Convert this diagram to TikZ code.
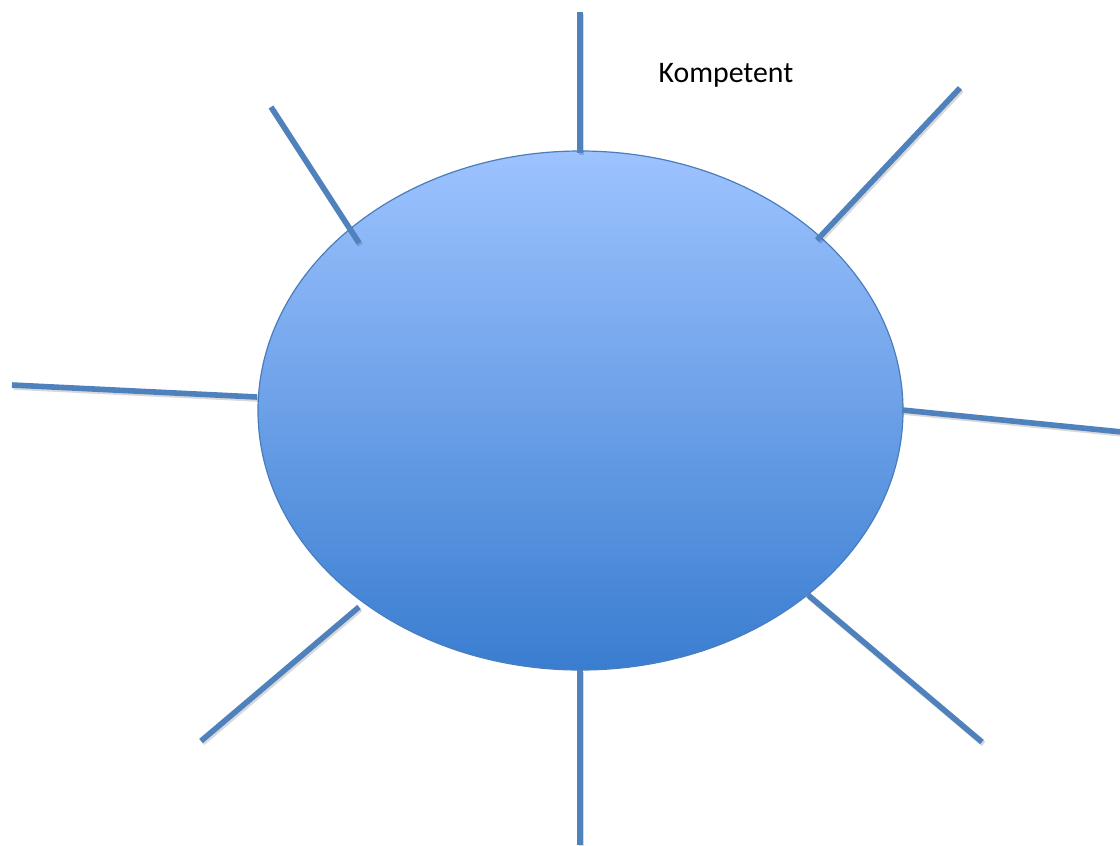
\documentclass[tikz,border=0pt]{standalone}
\usepackage{fontspec}
\setmainfont{Carlito}
\usetikzlibrary{shapes.geometric}
\definecolor{spoke}{HTML}{4F81BD}
\definecolor{rimc}{HTML}{4A7EBB}
\definecolor{topc}{HTML}{9DC3FF}
\definecolor{botc}{HTML}{3A7DD0}
\tikzset{
  spokeline/.style={draw=spoke, line width=5.6pt},
  spokeshadow/.style={draw=black, opacity=0.15, line width=5.6pt, transform canvas={shift={(1.5pt,-2pt)}}},
}
\begin{document}
\begin{tikzpicture}[x=1pt,y=-1pt]
\useasboundingbox (0,0) rectangle (1120,846);
\node[ellipse, minimum width=645pt, minimum height=519pt, inner sep=0pt,
      draw=rimc, line width=1.2pt, top color=topc, bottom color=botc] (core) at (580.5,410.5) {};
\node[anchor=center, font=\fontsize{29.8}{34}\selectfont] (lbl) at (726,75) {Kompetent};
% spoke end points
\coordinate (t1) at (580,12);   \coordinate (t2) at (580,153);
\coordinate (tl1) at (271,107); \coordinate (tl2) at (359,243);
\coordinate (tr1) at (960,88);  \coordinate (tr2) at (817,240);
\coordinate (l1) at (12,385);   \coordinate (l2) at (257,397);
\coordinate (r1) at (1122,432); \coordinate (r2) at (902,410);
\coordinate (bl1) at (201,741); \coordinate (bl2) at (359,607);
\coordinate (b1) at (580,845);  \coordinate (b2) at (580,670);
\coordinate (br1) at (982,742); \coordinate (br2) at (808,595);
\foreach \a/\b in {t1/t2, tl1/tl2, tr1/tr2, l1/l2, r1/r2, bl1/bl2, b1/b2, br1/br2}{
  \draw[spokeshadow] (\a) -- (\b);
  \draw[spokeline] (\a) -- (\b);
}
\end{tikzpicture}
\end{document}
